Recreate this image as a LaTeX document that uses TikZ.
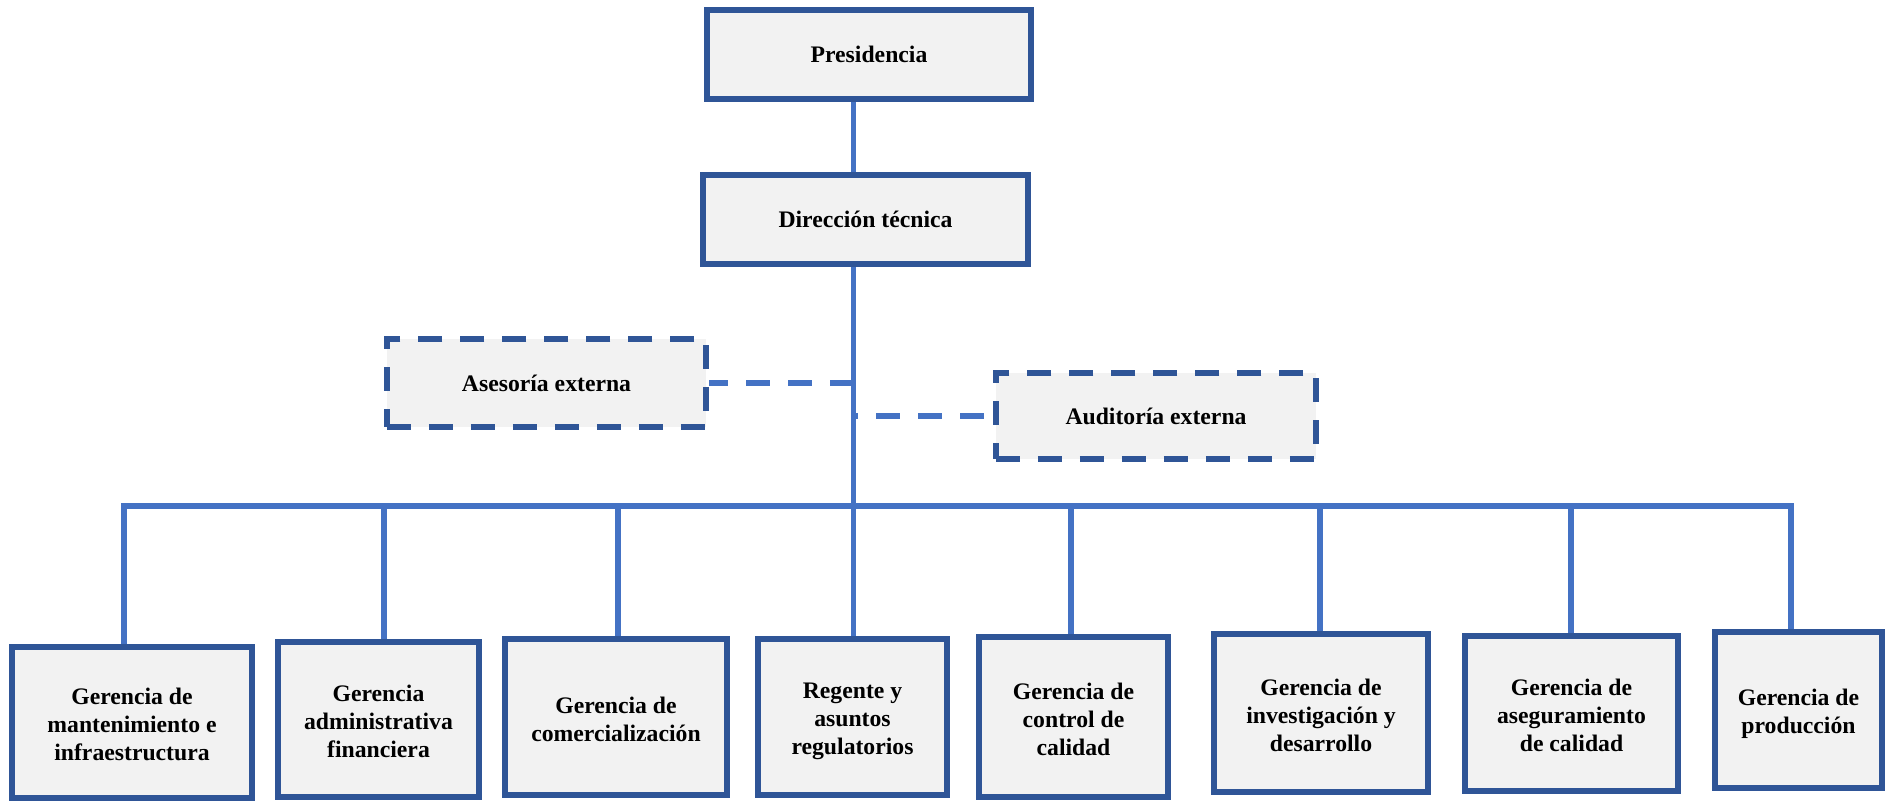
\documentclass[tikz,border=0pt]{standalone}
\usepackage{fontspec}
\setmainfont{Liberation Serif}
\usetikzlibrary{backgrounds}
\definecolor{boxline}{HTML}{2F5597}
\definecolor{linkline}{HTML}{4472C4}
\definecolor{boxfill}{HTML}{F2F2F2}
% fixed line height for the first and last line of the unit labels
\newcommand\deptTop{\rule{0pt}{12.5pt}}
\newcommand\deptEnd{\rule[-2.5pt]{0pt}{2.5pt}}
\begin{document}
\begin{tikzpicture}[x=0.5pt,y=-0.5pt,
  unit/.style={draw=boxline, fill=boxfill, line width=3.2pt, inner sep=0pt,
    align=center, text=black, font=\bfseries\fontsize{11.85}{14}\selectfont},
  advisor/.style={unit, line width=2.8pt, dash pattern=on 12pt off 9pt},
  link/.style={draw=linkline, line width=2.8pt, line join=miter},
  dottedlink/.style={link, line width=2.6pt, dash pattern=on 12pt off 9pt}]

\useasboundingbox (0,0) rectangle (1893,801);

% top of the chart
\node[unit, minimum width=162pt, minimum height=44.5pt] (pres) at (869,54.5) {Presidencia};
\node[unit, minimum width=162.5pt, minimum height=44.5pt] (dir) at (865.5,219.5) {Dirección técnica};

% external advisors
\node[advisor, minimum width=159.75pt, minimum height=44.25pt] (ases) at (546.5,383) {Asesoría externa};
\node[advisor, minimum width=160.25pt, minimum height=43.25pt] (audi) at (1156,416) {Auditoría externa};

% management units
\node[unit, minimum width=120pt, minimum height=75.5pt] (b1) at (132,722.5)
  {\deptTop Gerencia de\\mantenimiento e\\infraestructura\deptEnd};
\node[unit, minimum width=100.5pt, minimum height=77.5pt] (b2) at (378.5,719.5)
  {\deptTop Gerencia\\administrativa\\financiera\deptEnd};
\node[unit, minimum width=111pt, minimum height=78pt] (b3) at (616,717)
  {\deptTop Gerencia de\\comercialización\deptEnd};
\node[unit, minimum width=94.5pt, minimum height=78pt] (b4) at (852.5,717)
  {\deptTop Regente y\\asuntos\\regulatorios\deptEnd};
\node[unit, minimum width=94.5pt, minimum height=80pt] (b5) at (1073.5,717)
  {\deptTop Gerencia de\\control de\\calidad\deptEnd};
\node[unit, minimum width=107pt, minimum height=79pt] (b6) at (1321,713)
  {\deptTop Gerencia de\\investigación y\\desarrollo\deptEnd};
\node[unit, minimum width=106.5pt, minimum height=77.5pt] (b7) at (1571.5,713.5)
  {\deptTop Gerencia de\\aseguramiento\\de calidad\deptEnd};
\node[unit, minimum width=83.5pt, minimum height=78pt] (b8) at (1798.5,710)
  {\deptTop Gerencia de\\producción\deptEnd};

% connectors
\coordinate (spine) at (853.5,0);
\coordinate (busL) at (124,506);
\coordinate (busR) at (1791,506);
\coordinate (d2) at (384,506);
\coordinate (d3) at (618,506);
\coordinate (d5) at (1071,506);
\coordinate (d6) at (1320,506);
\coordinate (d7) at (1571,506);

\begin{scope}[on background layer]
  \draw[link] (pres.south -| spine) -- (dir.north -| spine);
  \draw[link] (dir.south -| spine) -- (b4.north -| spine);
  \draw[link] (b1.north -| busL) -- (busL) -- (busR) -- (b8.north -| busR);
  \draw[link] (d2) -- (d2 |- b2.north);
  \draw[link] (d3) -- (d3 |- b3.north);
  \draw[link] (d5) -- (d5 |- b5.north);
  \draw[link] (d6) -- (d6 |- b6.north);
  \draw[link] (d7) -- (d7 |- b7.north);
  \draw[dottedlink] (spine |- ases.east) -- (ases.east);
  \draw[dottedlink, dash phase=16.5pt] (audi.west) -- (spine |- audi.west);
\end{scope}
\end{tikzpicture}
\end{document}
